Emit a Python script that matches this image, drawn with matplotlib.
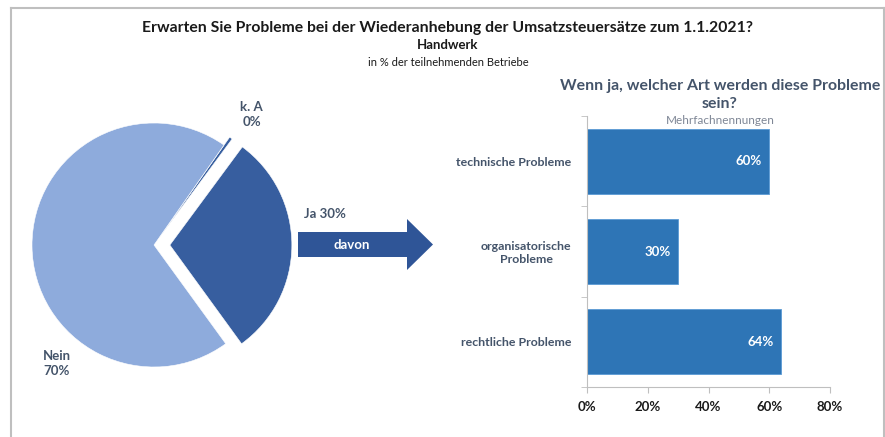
import matplotlib
matplotlib.use("Agg")
import matplotlib.pyplot as plt
from matplotlib.patches import FancyArrow
import numpy as np

plt.rcParams["font.family"] = ["Lato", "DejaVu Sans"]

# Pie data (Handwerk, in % der teilnehmenden Betriebe)
pie_labels = ["Ja", "k. A", "Nein"]
pie_values = [30, 0.4, 70]
pie_colors = ["#375E9F", "#375E9F", "#8EABDC"]
pie_explode = [0.13, 0.08, 0.0]

# Bar data (Mehrfachnennungen)
bar_categories = ["technische Probleme", "organisatorische\nProbleme", "rechtliche Probleme"]
bar_values = [60, 30, 64]
x_ticks = [0, 20, 40, 60, 80]

W, H = 885, 437
fig = plt.figure(figsize=(W / 100, H / 100), dpi=100)
fig.patch.set_facecolor("white")

# overlay in pixel coordinates for titles, frame and arrow
ov = fig.add_axes([0, 0, 1, 1])
ov.set_xlim(0, W)
ov.set_ylim(H, 0)
ov.axis("off")
ov.set_zorder(5)

frame_col = "#BFBFBF"
ov.plot([11, 883.5], [8, 8], color=frame_col, lw=1.5)
ov.plot([11, 11], [8, H], color=frame_col, lw=1.5)
ov.plot([883.5, 883.5], [8, H], color=frame_col, lw=1.5)

ov.text(448, 28, "Erwarten Sie Probleme bei der Wiederanhebung der Umsatzsteuersätze zum 1.1.2021?",
        ha="center", va="center", fontsize=11.3, fontweight="bold", color="#1a1a1a")
ov.text(448, 45, "Handwerk", ha="center", va="center", fontsize=9.5, fontweight="bold", color="#1a1a1a")
ov.text(448, 62, "in % der teilnehmenden Betriebe", ha="center", va="center", fontsize=8, color="#1a1a1a")

title_col = "#44546A"
ov.text(720, 95, "Wenn ja, welcher Art werden diese Probleme\nsein?", ha="center", va="center",
        fontsize=11.4, fontweight="bold", color=title_col, linespacing=1.3)
ov.text(720, 120, "Mehrfachnennungen", ha="center", va="center", fontsize=8.5, color="#7F8796")

# "davon" arrow
arrow = FancyArrow(298, 244.5, 135, 0, width=25, head_width=51, head_length=26,
                   length_includes_head=True, color="#2F5597", lw=0)
ov.add_patch(arrow)
ov.text(352, 245, "davon", ha="center", va="center", fontsize=9.5, fontweight="bold", color="white")

# pie chart
R = 122.0
cx, cy = 154, 245
ax_pie = fig.add_axes([0, 0, 440 / W, 1])
ax_pie.pie(pie_values, colors=pie_colors, explode=pie_explode, startangle=-54,
           counterclock=True, wedgeprops=dict(edgecolor="white", linewidth=0.4))
ax_pie.set_aspect("auto")
ax_pie.set_xlim(-cx / R, (440 - cx) / R)
ax_pie.set_ylim(-(H - cy) / R, cy / R)
ax_pie.axis("off")

lab_col = "#44546A"
lab_pos = {"Ja": (1.40, 0.25), "k. A": (0.80, 1.07), "Nein": (-0.80, -0.97)}
for name, val in zip(pie_labels, pie_values):
    x, y = lab_pos[name]
    txt = f"{name} {round(val)}%" if name == "Ja" else f"{name}\n{round(val)}%"
    ax_pie.text(x, y, txt, ha="center", va="center", fontsize=9.5, fontweight="bold",
                color=lab_col, linespacing=1.3)

# bar chart
ax_bar = fig.add_axes([587 / W, (H - 387) / H, 243 / W, 271 / H])
ax_bar.patch.set_visible(False)
ypos = np.arange(len(bar_categories))
bars = ax_bar.barh(ypos, bar_values, height=0.72, color="#2E75B6", edgecolor="#5B9BD5", linewidth=0.6)
ax_bar.set_xlim(0, 80)
ax_bar.set_ylim(len(bar_categories) - 0.5, -0.5)
ax_bar.set_yticks(ypos)
ax_bar.set_yticklabels(bar_categories, fontsize=8.9, fontweight="bold", color=lab_col)
ax_bar.set_yticks(np.arange(len(bar_categories) + 1) - 0.5, minor=True)
ax_bar.tick_params(axis="y", which="major", length=0, pad=11)
ax_bar.tick_params(axis="y", which="minor", length=4, color=frame_col, direction="out")
ax_bar.set_xticks(x_ticks)
ax_bar.set_xticklabels([f"{t}%" for t in x_ticks], fontsize=9.5, fontweight="bold", color="#1a1a1a")
ax_bar.tick_params(axis="x", length=4, color=frame_col, direction="out", pad=6)
for s in ["top", "right"]:
    ax_bar.spines[s].set_visible(False)
for s in ["left", "bottom"]:
    ax_bar.spines[s].set_color(frame_col)
for lbl in ax_bar.get_yticklabels():
    lbl.set_multialignment("center")

for b, v in zip(bars, bar_values):
    ax_bar.text(b.get_width() - 2.5, b.get_y() + b.get_height() / 2, f"{v}%", ha="right", va="center",
                fontsize=9.5, fontweight="bold", color="white")

fig.savefig("out.png", dpi=100)
